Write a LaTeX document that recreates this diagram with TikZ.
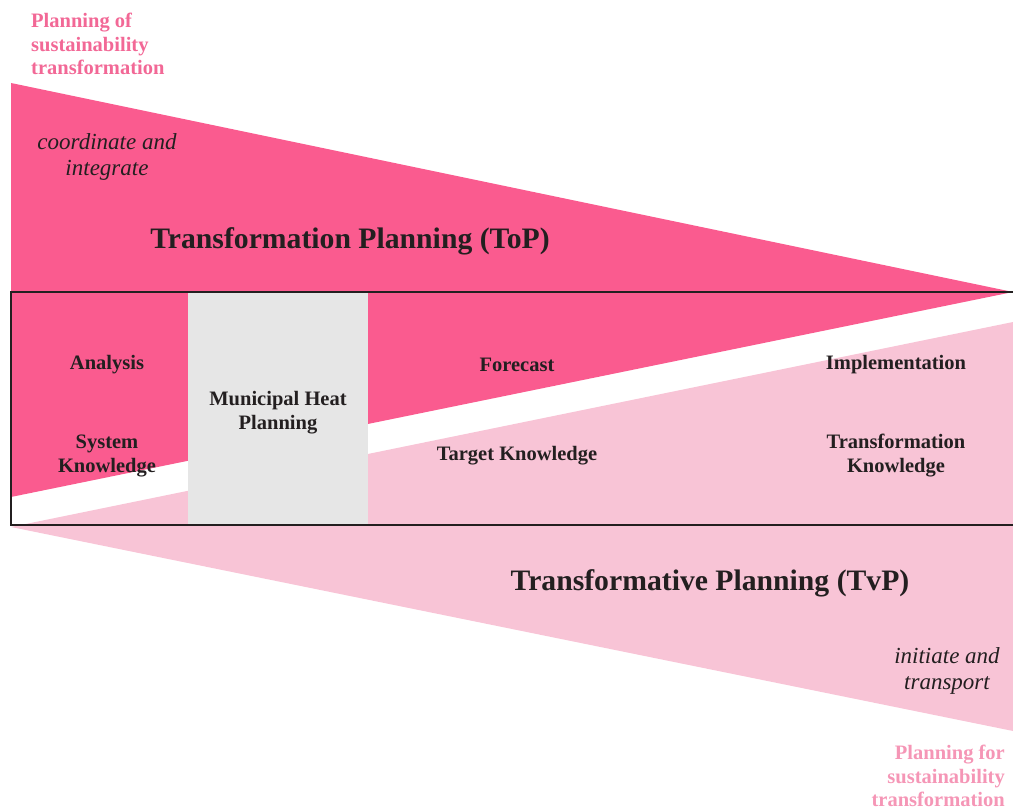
\documentclass[tikz,border=0pt]{standalone}
\usepackage{fontspec}
\setmainfont{Liberation Serif}
\usepackage{tikz}
\usetikzlibrary{positioning}
\definecolor{TopPink}{RGB}{250,91,143}
\definecolor{LowPink}{RGB}{248,196,214}
\definecolor{HeatGray}{RGB}{230,230,230}
\definecolor{TopText}{RGB}{242,104,150}
\definecolor{LowText}{RGB}{245,150,182}
\definecolor{Ink}{RGB}{35,31,32}
\tikzset{StepLabel/.style={%
    align=center,%
    font=\fontsize{20.5}{24}\selectfont\bfseries,%
    text=Ink,%
    inner sep=0pt,%
}}
\tikzset{ModeLabel/.style={%
    align=center,%
    font=\fontsize{23}{26}\selectfont\itshape,%
    text=Ink,%
    inner sep=0pt,%
}}
\tikzset{TitleLabel/.style={%
    font=\fontsize{29.7}{34}\selectfont\bfseries,%
    text=Ink,%
    inner sep=0pt,%
}}
\tikzset{CornerLabel/.style={%
    font=\fontsize{20.5}{23.5}\selectfont\bfseries,%
    inner sep=0pt,%
}}

\begin{document}
\begin{tikzpicture}[x=1pt, y=-1pt]
    \useasboundingbox (0,0) rectangle (1013,810);

    \fill[TopPink] (11,83) -- (1013,292) -- (11,497) -- cycle;
    \fill[LowPink] (11,527) -- (1013,322) -- (1013,731) -- cycle;
    \fill[HeatGray] (188,293) rectangle (368,525);
    \draw[line width=2pt, Ink] (11,292) rectangle (1016,525);

    \node[CornerLabel, text=TopText, align=left, anchor=north west] (pof) at (31,13) {Planning of\\sustainability\\transformation};
    \node[ModeLabel] (coord) at (107,157) {coordinate and\\integrate};
    \node[TitleLabel] (top) at (350,241) {Transformation Planning (ToP)};

    \node[StepLabel] (analysis) at (107,365) {Analysis};
    \node[StepLabel] (system) at (107,456) {System\\Knowledge};
    \node[StepLabel] (mhp) at (278,413) {Municipal Heat\\Planning};
    \node[StepLabel] (forecast) at (517,365) {Forecast};
    \node[StepLabel] (target) at (517,456) {Target Knowledge};
    \node[StepLabel] (impl) at (896,365) {Implementation};
    \node[StepLabel] (trans) at (896,456) {Transformation\\Knowledge};

    \node[TitleLabel] (tvp) at (710,583) {Transformative Planning (TvP)};
    \node[ModeLabel] (init) at (947,671) {initiate and\\transport};
    \node[CornerLabel, text=LowText, align=right, anchor=north east] (pfor) at (1005,745) {Planning for\\sustainability\\transformation};
\end{tikzpicture}
\end{document}
